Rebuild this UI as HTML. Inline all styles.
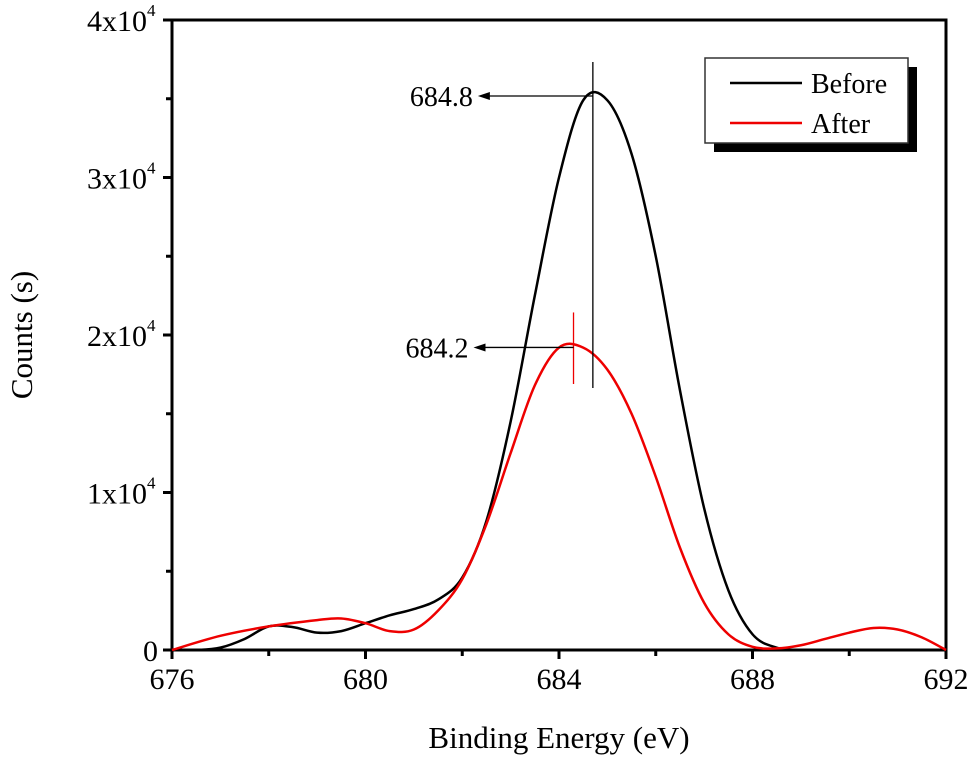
<!DOCTYPE html>
<html><head><meta charset="utf-8"><style>
html,body{margin:0;padding:0;background:#fff;}
svg{display:block;font-family:"Liberation Serif",serif;}
</style></head><body>
<svg id="chart" width="971" height="762" viewBox="0 0 971 762">
<rect x="0" y="0" width="971" height="762" fill="#fff"/>
<g id="plot"></g>
</svg>
<script>
const xTicks=[676,680,684,688,692];
const yTicks=[0,10000,20000,30000,40000];
const yTickLabels=["0","1x10","2x10","3x10","4x10"];
const beforeX=[676,676.5,677,677.5,678,678.5,679,679.5,680,680.5,681,681.5,682,682.5,683,683.5,684,684.5,685,685.5,686,686.5,687,687.5,688,688.5,689,690,691,692];
const beforeY=[0,0,150,700,1500,1450,1100,1200,1700,2200,2600,3200,4600,8200,14500,22500,30000,34900,34900,31500,25000,16500,9000,3800,1000,150,0,0,0,0];
const afterX=[676,677,678,679,679.5,680,680.5,681,681.5,682,682.5,683,683.5,684,684.5,685,685.5,686,686.5,687,687.5,688,688.5,689,689.5,690,690.5,691,691.5,692];
const afterY=[0,900,1500,1900,2000,1700,1200,1300,2500,4500,8000,12500,16800,19200,19200,17800,15000,11000,6500,3000,1000,200,100,300,700,1100,1400,1300,800,0];
const peaks=[684.7,684.3];
const peakLabels=["684.8","684.2"];
const peakHeights=[35300,19400];

const X0=172,X1=946,Y0=650,Y1=20;
const sx=v=>X0+(v-676)/(692-676)*(X1-X0);
const sy=v=>Y0-(v/40000)*(Y0-Y1);
const NS="http://www.w3.org/2000/svg";
const g=document.getElementById('plot');
function mk(t,a,p){const e=document.createElementNS(NS,t);for(const k in a)e.setAttribute(k,a[k]);(p||g).appendChild(e);return e;}
function smooth(xs,ys){const P=xs.map((x,i)=>[sx(x),sy(ys[i])]);let d="M"+P[0][0]+","+P[0][1];
for(let i=0;i<P.length-1;i++){const p0=P[i-1]||P[i],p1=P[i],p2=P[i+1],p3=P[i+2]||P[i+1];
const c1=[p1[0]+(p2[0]-p0[0])/6,p1[1]+(p2[1]-p0[1])/6],c2=[p2[0]-(p3[0]-p1[0])/6,p2[1]-(p3[1]-p1[1])/6];
d+=" C"+c1+" "+c2+" "+p2;}return d;}

let e=mk('rect',{x:X0,y:Y1,width:X1-X0,height:Y0-Y1,fill:'none',stroke:'#000','stroke-width':3});

xTicks.forEach(v=>{const x=sx(v);
e=mk('line',{x1:x,y1:Y0,x2:x,y2:Y0+9,stroke:'#000','stroke-width':3});

e=mk('text',{x:x,y:Y0+39,'font-size':30,'text-anchor':'middle'});e.textContent=v;
});
for(let i=0;i<xTicks.length-1;i++){const x=sx((xTicks[i]+xTicks[i+1])/2);
e=mk('line',{x1:x,y1:Y0,x2:x,y2:Y0+6,stroke:'#000','stroke-width':3});
}
yTicks.forEach((v,i)=>{const y=sy(v);
e=mk('line',{x1:X0-9,y1:y,x2:X0,y2:y,stroke:'#000','stroke-width':3});

e=mk('text',{x:i==0?X0-14:X0-25,y:y+11,'font-size':30,'text-anchor':'end'});e.textContent=yTickLabels[i];

if(i>0){const s=mk('text',{x:X0-25,y:y-4,'font-size':17});s.textContent="4";
}});
for(let i=0;i<yTicks.length-1;i++){const y=sy((yTicks[i]+yTicks[i+1])/2);
e=mk('line',{x1:X0-6,y1:y,x2:X0,y2:y,stroke:'#000','stroke-width':3});
}
e=mk('text',{x:(X0+X1)/2,y:748,'font-size':31,'text-anchor':'middle'});e.textContent="Binding Energy (eV)";

e=mk('text',{x:0,y:0,'font-size':31,'text-anchor':'middle',transform:'translate(32,335) rotate(-90)'});e.textContent="Counts (s)";

e=mk('path',{d:smooth(beforeX,beforeY),fill:'none',stroke:'#000','stroke-width':2.5});

e=mk('path',{d:smooth(afterX,afterY),fill:'none',stroke:'#e00','stroke-width':2.5});

const cols=['#000','#e00'];
peaks.forEach((p,i)=>{const x=sx(p),yp=sy(peakHeights[i]);
const top=yp-32,bot=388-i*4;
e=mk('line',{x1:x,y1:top,x2:x,y2:bot,stroke:cols[i],'stroke-width':1.3});

const ay=yp+(i==0?2:3),ax=x-(i==0?115:100);
e=mk('line',{x1:x,y1:ay,x2:ax+10,y2:ay,stroke:'#000','stroke-width':1.3});

e=mk('path',{d:`M${ax},${ay} L${ax+12},${ay-4} L${ax+12},${ay+4} Z`,fill:'#000'});

e=mk('text',{x:ax-5,y:ay+10,'font-size':28,'text-anchor':'end'});e.textContent=peakLabels[i];
});
const lg=mk('g',{});
mk('rect',{x:714,y:67,width:203,height:85,fill:'#000'},lg);
mk('rect',{x:705,y:58,width:203,height:85,fill:'#fff',stroke:'#333','stroke-width':1.5},lg);
e=mk('line',{x1:730,y1:83,x2:802,y2:83,stroke:'#000','stroke-width':2.5},lg);

e=mk('text',{x:811,y:93,'font-size':28},lg);e.textContent="Before";

e=mk('line',{x1:730,y1:123,x2:802,y2:123,stroke:'#e00','stroke-width':2.5},lg);

e=mk('text',{x:811,y:133,'font-size':28},lg);e.textContent="After";

</script>
</body></html>
